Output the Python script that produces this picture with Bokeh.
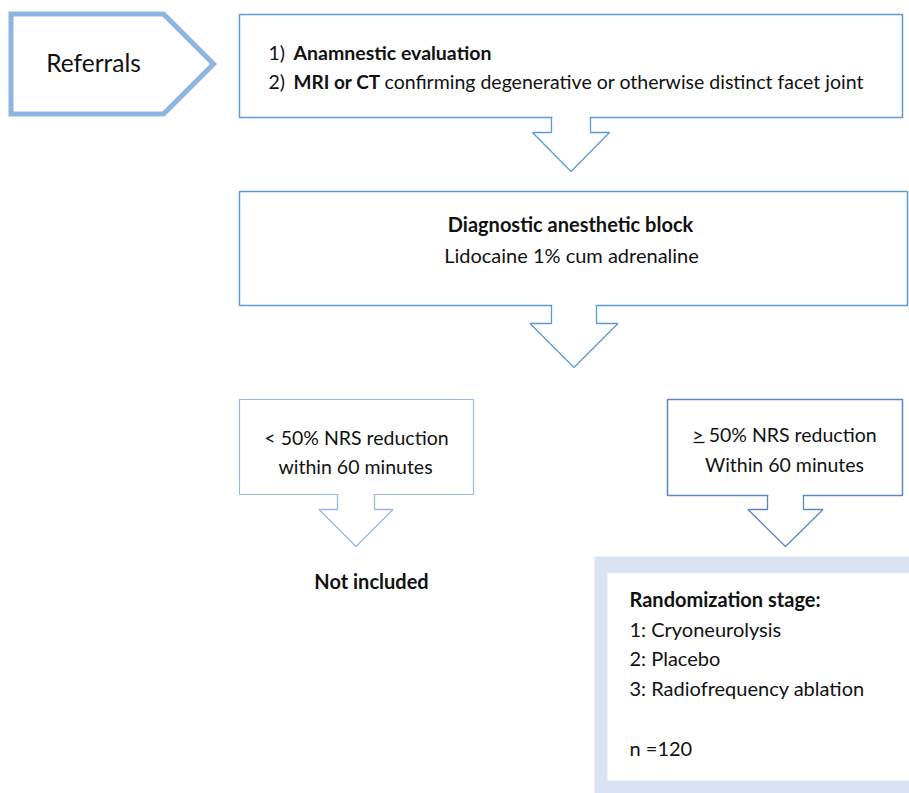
from bokeh.plotting import figure
from bokeh.models import Range1d
from bokeh.embed import file_html
from bokeh.resources import INLINE
from bokeh.core.properties import value

FONT = "Lato"

# ---- boxes (pixel-like coordinates, y grows downward) ----
box_names = ["evaluation", "block", "low", "high"]
box_left = [239, 239, 239, 667]
box_right = [902, 907, 473, 902]
box_top = [14, 191, 399, 399]
box_bottom = [117, 305, 494, 495]
box_color = ["#5B9BD5", "#5B9BD5", "#9DB7DF", "#5B86C5"]
box_width = [1.5, 1.5, 1.2, 1.5]

# ---- block arrows ----
arrow_cx = [570.5, 573.5, 355.5, 785]
arrow_shaft_hw = [19.5, 22.5, 18.5, 18]
arrow_head_hw = [38.5, 44, 37, 37.5]
arrow_y0 = [117, 305, 494, 495]
arrow_y1 = [132, 323, 509, 509]
arrow_tip = [171, 367, 546, 546]
arrow_color = ["#5B9BD5", "#5B9BD5", "#9DB7DF", "#5B86C5"]

# ---- referrals pentagon ----
pent_x = [10.5, 163, 213, 163, 10.5]
pent_y = [13.5, 13.5, 63.5, 113.5, 113.5]

# ---- randomization panel ----
panel_outer = (594, 930, 556, 800)
panel_inner = (607, 930, 572.5, 780)

# ---- texts ----
txt = [
    # text, x, y, align, bold, size
    ("Referrals", 93, 62, "center", False, 24.5),
    ("1)", 268, 52, "left", False, 19.5),
    ("Anamnestic evaluation", 293, 52, "left", True, 19.5),
    ("2)", 268, 81, "left", False, 19.5),
    ("MRI or CT", 293, 81, "left", True, 19),
    ("confirming degenerative or otherwise distinct facet joint", 384, 81, "left", False, 19.5),
    ("Diagnostic anesthetic block", 570, 223, "center", True, 20),
    ("Lidocaine 1% cum adrenaline", 571, 254, "center", False, 20),
    ("< 50% NRS reduction", 356, 437, "center", False, 19.5),
    ("within 60 minutes", 355, 466, "center", False, 19.5),
    ("> 50% NRS reduction", 784, 434, "center", False, 19.5),
    ("Within 60 minutes", 784, 464, "center", False, 19.5),
    ("Not included", 371, 580, "center", True, 20),
    ("Randomization stage:", 629, 598, "left", True, 20),
    ("1: Cryoneurolysis", 629, 628, "left", False, 20),
    ("2: Placebo", 629, 657, "left", False, 20),
    ("3: Radiofrequency ablation", 629, 687, "left", False, 20),
    ("n =120", 629, 747, "left", False, 20),
]
underline_x = [693, 704]
underline_y = [442, 442]

p = figure(width=909, height=793, output_backend="svg", toolbar_location=None,
           x_range=Range1d(0, 909), y_range=Range1d(793, 0),
           x_axis_location=None, y_axis_location=None, min_border=0,
           background_fill_color="white", border_fill_color="white")
p.grid.visible = False
p.outline_line_color = None

# randomization panel
p.quad(left=[panel_outer[0]], right=[panel_outer[1]], top=[panel_outer[2]], bottom=[panel_outer[3]],
       fill_color="#DAE3F3", line_color=None)
p.quad(left=[panel_inner[0]], right=[panel_inner[1]], top=[panel_inner[2]], bottom=[panel_inner[3]],
       fill_color="white", line_color=None)

# pentagon
p.patch(pent_x, pent_y, fill_color="white", line_color="#8EB4E3", line_width=5, line_join="miter")

# boxes
for l, r, t, b, c, w in zip(box_left, box_right, box_top, box_bottom, box_color, box_width):
    p.quad(left=[l], right=[r], top=[t], bottom=[b], fill_color="white", line_color=c, line_width=w)

# arrows
for cx, shw, hhw, y0, y1, y2, c in zip(arrow_cx, arrow_shaft_hw, arrow_head_hw,
                                         arrow_y0, arrow_y1, arrow_tip, arrow_color):
    xs = [cx - shw, cx - shw, cx - hhw, cx, cx + hhw, cx + shw, cx + shw]
    ys = [y0, y1, y1, y2, y1, y1, y0]
    p.patch([cx - shw + 0.8, cx - shw + 0.8, cx + shw - 0.8, cx + shw - 0.8],
            [y0 - 1.5, y1 + 0.5, y1 + 0.5, y0 - 1.5], fill_color="white", line_color=None)
    p.patch(xs[1:6], ys[1:6], fill_color="white", line_color=None)
    p.line(xs, ys, line_color=c, line_width=1.3)

# texts
for t, x, y, a, bold, s in txt:
    p.text(x=[x], y=[y], text=[t], text_align=a, text_baseline="middle",
           text_font=value(FONT), text_font_size=f"{s}px",
           text_font_style="bold" if bold else "normal", text_color="#111111")

p.line(underline_x, underline_y, line_color="#111111", line_width=1.3)

open("out.html", "w").write(file_html(p, INLINE))
